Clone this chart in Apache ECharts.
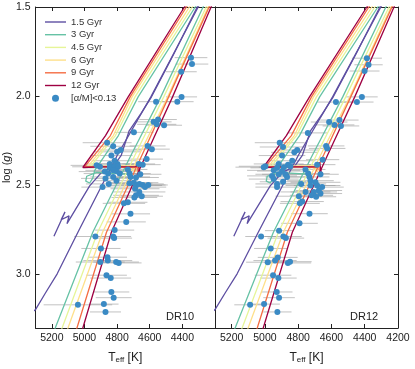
<!DOCTYPE html>
<html lang="en">
<head>
    <meta charset="UTF-8">
    <title>Isochrones vs DR10 / DR12</title>
    <script src="https://cdn.jsdelivr.net/npm/echarts/dist/echarts.min.js"></script>
    <style>
        html, body { margin: 0; padding: 0; background: #ffffff; }
        #main { width: 415px; height: 369px; }
    </style>
</head>
<body>
<div id="main"></div>
<script type="text/javascript">
    // ages shown in the legend
    var ages = ['1.5 Gyr', '3 Gyr', '4.5 Gyr', '6 Gyr', '9 Gyr', '12 Gyr'];
    var sampleName = '[α/M]<0.13';
    var panelNames = ['DR10', 'DR12'];

    // tick values
    var teffTicks = [4200, 4400, 4600, 4800, 5000, 5200];
    var loggTicks = [1.5, 2.0, 2.5, 3.0];

    // isochrones: red giant branch [Teff, log g]
    var rgb_1_5 = [[5420, 3.28], [5300, 3.197], [5240, 3.105], [5167, 2.996], [5040, 2.763], [4798, 2.330], [4593, 2.004], [4303, 1.5], [4245, 1.4]];
    var rgb_3 = [[5222, 3.4], [5179, 3.3], [4949, 2.763], [4714, 2.33], [4532, 2.004], [4273, 1.5], [4222, 1.4]];
    var rgb_4_5 = [[5180, 3.4], [5137, 3.3], [4919, 2.763], [4690, 2.33], [4514, 2.004], [4254, 1.5], [4203, 1.4]];
    var rgb_6 = [[5141, 3.4], [5101, 3.3], [4889, 2.763], [4665, 2.33], [4490, 2.004], [4242, 1.5], [4192, 1.4]];
    var rgb_9 = [[5080, 3.4], [5046, 3.3], [4865, 2.763], [4647, 2.33], [4484, 2.004], [4236, 1.5], [4186, 1.4]];
    var rgb_12 = [[5043, 3.4], [5010, 3.3], [4835, 2.763], [4623, 2.33], [4460, 2.004], [4224, 1.5], [4177, 1.4]];

    // isochrones: clump / horizontal branch and AGB
    var hb_1_5 = [[5187, 2.785], [5119, 2.649], [5143, 2.693], [5094, 2.671], [5107, 2.715], [4968, 2.503], [4895, 2.427], [4823, 2.395], [4774, 2.330], [4726, 2.194], [4653, 2.096], [4593, 2.010], [4454, 1.766], [4309, 1.5], [4279, 1.446]];
    var hb_3 = [[4714, 2.438], [4925, 2.427], [4986, 2.449], [4992, 2.476], [4968, 2.487], [4949, 2.460], [4937, 2.416], [4792, 2.221], [4671, 2.004], [4321, 1.5], [4283, 1.446]];
    var hb_4_5 = [[4696, 2.422], [4700, 2.395], [4900, 2.398], [4968, 2.400], [4810, 2.221], [4690, 2.004], [4339, 1.5], [4301, 1.446]];
    var hb_6 = [[4684, 2.427], [4690, 2.390], [4900, 2.393], [4980, 2.395], [4823, 2.221], [4708, 2.004], [4357, 1.5], [4319, 1.446]];
    var hb_9 = [[4671, 2.427], [4677, 2.384], [4690, 2.400], [4900, 2.395], [4998, 2.395], [4841, 2.221], [4720, 2.004], [4375, 1.5], [4337, 1.446]];
    var hb_12 = [[4659, 2.443], [4671, 2.373], [4684, 2.395], [4895, 2.397], [5010, 2.400], [4871, 2.221], [4732, 2.004], [4387, 1.5], [4349, 1.446]];

    // stars, DR10
    var dr10Teff = [4347, 4341, 4407, 4405, 4431, 4561, 4576, 4549, 4557, 4512, 4697, 4861, 4824, 4778, 4800, 4613, 4587, 4619, 4835, 4815,
        4798, 4925, 4905, 4845, 4845, 4815, 4794, 4824, 4875, 4855, 4804, 4784, 4871, 4824, 4804, 4851, 4889, 4734, 4724, 4718,
        4667, 4643, 4658, 4684, 4724, 4697, 4684, 4664, 4643, 4629, 4609, 4690, 4664, 4684, 4649, 4694, 4758, 4734, 4718, 4744,
        4815, 4933, 4824, 4818, 4899, 4859, 4903, 4857, 4806, 4790, 4865, 4839, 4835, 4821, 5040, 4881, 4871];
    var dr10Logg = [1.784, 1.820, 1.863, 2.004, 2.031, 2.031, 2.144, 2.131, 2.158, 2.163, 2.203, 2.261, 2.281, 2.302, 2.312, 2.279, 2.297, 2.353, 2.333, 2.362,
        2.380, 2.388, 2.396, 2.380, 2.402, 2.393, 2.396, 2.416, 2.423, 2.434, 2.420, 2.434, 2.461, 2.453, 2.474, 2.492, 2.510, 2.411, 2.434, 2.453,
        2.380, 2.384, 2.438, 2.456, 2.488, 2.485, 2.501, 2.492, 2.498, 2.510, 2.498, 2.519, 2.537, 2.556, 2.561, 2.568, 2.601, 2.595, 2.660, 2.705,
        2.751, 2.787, 2.787, 2.796, 2.854, 2.903, 2.930, 2.922, 2.930, 2.935, 3.004, 3.020, 3.098, 3.130, 3.170, 3.166, 3.210];
    var dr10Err = [100, 100, 95, 95, 100, 110, 110, 115, 120, 110, 120, 150, 140, 130, 140, 110, 110, 100, 130, 140,
        150, 160, 170, 150, 160, 140, 150, 170, 160, 150, 140, 130, 150, 140, 130, 140, 130, 120, 130, 120,
        100, 110, 130, 140, 140, 150, 160, 150, 140, 130, 120, 150, 160, 140, 130, 140, 130, 120, 120, 120,
        120, 130, 110, 110, 120, 120, 150, 150, 140, 140, 125, 125, 110, 110, 210, 90, 95];

    // stars, DR12
    var dr12Teff = [4387, 4377, 4401, 4417, 4447, 4573, 4614, 4552, 4582, 4543, 4742, 4911, 4891, 4806, 4823, 4632, 4626, 4897, 4653, 4836,
        4686, 4861, 4917, 4997, 5007, 4927, 4886, 4847, 4947, 4897, 4877, 4957, 4917, 4867, 4947, 4891, 4927, 4927, 4756, 4740,
        4732, 4666, 4726, 4782, 4696, 4726, 4686, 4656, 4676, 4756, 4706, 4666, 4796, 4720, 4692, 4776, 4790, 4732, 4792, 4915,
        5023, 4889, 4874, 4965, 4923, 4983, 4939, 4862, 4849, 4951, 4919, 4929, 4915, 5089, 5005, 4925];
    var dr12Logg = [1.787, 1.824, 1.859, 2.004, 2.033, 2.033, 2.145, 2.134, 2.161, 2.167, 2.206, 2.261, 2.285, 2.302, 2.315, 2.279, 2.293, 2.333, 2.356, 2.362,
        2.384, 2.384, 2.380, 2.393, 2.398, 2.402, 2.398, 2.393, 2.416, 2.420, 2.438, 2.447, 2.438, 2.453, 2.465, 2.480, 2.492, 2.510, 2.411, 2.434,
        2.453, 2.438, 2.474, 2.492, 2.483, 2.501, 2.501, 2.510, 2.529, 2.537, 2.537, 2.546, 2.561, 2.556, 2.564, 2.591, 2.601, 2.659, 2.713, 2.754,
        2.787, 2.787, 2.796, 2.854, 2.904, 2.931, 2.922, 2.935, 2.928, 3.004, 3.020, 3.098, 3.130, 3.170, 3.166, 3.210];
    var dr12Err = [90, 85, 90, 95, 100, 110, 110, 115, 120, 110, 120, 150, 140, 130, 140, 110, 110, 140, 100, 140,
        110, 150, 150, 160, 170, 160, 150, 140, 160, 150, 140, 150, 140, 130, 150, 140, 130, 130, 120, 130,
        120, 110, 140, 150, 150, 150, 140, 130, 140, 150, 140, 130, 140, 130, 120, 130, 120, 110, 110, 85,
        95, 110, 110, 100, 120, 130, 130, 140, 130, 110, 110, 95, 95, 95, 95, 85];

    var rgbTracks = [rgb_1_5, rgb_3, rgb_4_5, rgb_6, rgb_9, rgb_12];
    var hbTracks = [hb_1_5, hb_3, hb_4_5, hb_6, hb_9, hb_12];
    var ageColors = ['#5e4fa2', '#66c2a5', '#e6f598', '#fee08b', '#f46d43', '#9e0142'];
    var dotColor = '#3a8ac4';
    var font = 'Liberation Sans';
    var lineIcon = 'path://M0,0H21V1.4H0Z';

    var myChart = echarts.init(document.getElementById('main'), null, {renderer: 'canvas'});

    function zip(a, b, c) {
        var out = [];
        for (var i = 0; i < a.length; i++) {
            out.push(c ? [a[i], b[i], c[i]] : [a[i], b[i]]);
        }
        return out;
    }

    // one x axis (bottom or top) for a panel
    function xAx(grid, pos, labels, showMin) {
        return {
            type: 'value', gridIndex: grid, position: pos,
            min: teffTicks[0], max: 5300, interval: 200, inverse: true,
            axisLine: {show: true, lineStyle: {color: '#222', width: 1}},
            axisTick: {show: true, inside: true, length: 4, lineStyle: {color: '#222'}},
            axisLabel: {
                show: labels, showMinLabel: showMin, showMaxLabel: false,
                fontSize: 10.5, color: '#222', fontFamily: font, margin: 5,
                formatter: function (v) { return teffTicks.indexOf(v) >= 0 ? String(v) : ''; }
            },
            splitLine: {show: false},
            name: labels ? 'T{s|eff} [K]' : '',
            nameLocation: 'middle', nameGap: 23,
            nameTextStyle: {
                fontSize: 12, color: '#222', fontFamily: font,
                rich: {s: {fontSize: 8, verticalAlign: 'bottom', padding: [5, 0, 0, 0], fontFamily: font, color: '#222'}}
            }
        };
    }

    function yAx(grid, pos, labels) {
        return {
            type: 'value', gridIndex: grid, position: pos,
            min: loggTicks[0], max: 3.3, interval: 0.5, inverse: true,
            axisLine: {show: true, lineStyle: {color: '#222', width: 1}},
            axisTick: {show: true, inside: true, length: 4, lineStyle: {color: '#222'}},
            axisLabel: {
                show: labels, showMaxLabel: false, fontSize: 10.5, color: '#222', fontFamily: font, margin: 5,
                formatter: function (v) { return v.toFixed(1); }
            },
            splitLine: {show: false},
            name: labels ? 'log ({i|g})' : '',
            nameLocation: 'middle', nameGap: 22, nameRotate: 90,
            nameTextStyle: {
                fontSize: 11, color: '#222', fontFamily: font,
                rich: {i: {fontSize: 11, fontStyle: 'italic', fontFamily: font, color: '#222'}}
            }
        };
    }

    var series = [];
    for (var p = 0; p < 2; p++) {
        // error bars
        var pts = p === 0 ? zip(dr10Teff, dr10Logg, dr10Err) : zip(dr12Teff, dr12Logg, dr12Err);
        series.push({
            type: 'custom', xAxisIndex: 2 * p, yAxisIndex: 2 * p, z: 1, silent: true, clip: true,
            encode: {x: 0, y: 1},
            data: pts,
            renderItem: function (params, api) {
                var t = api.value(0), g = api.value(1), e = api.value(2);
                var a = api.coord([t - e, g]);
                var b = api.coord([t + e, g]);
                return {
                    type: 'line',
                    shape: {x1: a[0], y1: a[1], x2: b[0], y2: b[1]},
                    style: {stroke: '#9a9a9a', lineWidth: 1, opacity: 0.6}
                };
            }
        });
        for (var i = 0; i < ages.length; i++) {
            [rgbTracks[i], hbTracks[i]].forEach(function (track) {
                series.push({
                    name: ages[i], type: 'line',
                    xAxisIndex: 2 * p, yAxisIndex: 2 * p, z: 2,
                    symbol: 'none', silent: true, clip: true,
                    itemStyle: {color: ageColors[i]},
                    lineStyle: {color: ageColors[i], width: 1.3},
                    data: track
                });
            });
        }
        series.push({
            name: sampleName, type: 'scatter',
            xAxisIndex: 2 * p, yAxisIndex: 2 * p, z: 4,
            symbolSize: 6, itemStyle: {color: dotColor, opacity: 1},
            data: p === 0 ? zip(dr10Teff, dr10Logg) : zip(dr12Teff, dr12Logg)
        });
    }

    var legendData = ages.map(function (a) { return {name: a, icon: lineIcon}; });
    legendData.push({name: sampleName, icon: 'circle'});

    var option = {
        backgroundColor: '#ffffff',
        animation: false,
        grid: [
            {left: 33, top: 7, width: 182, height: 332},
            {left: 215, top: 7, width: 183, height: 332}
        ],
        xAxis: [
            xAx(0, 'bottom', true, false),
            xAx(0, 'top', false, false),
            xAx(1, 'bottom', true, true),
            xAx(1, 'top', false, false)
        ],
        yAxis: [
            yAx(0, 'left', true),
            yAx(0, 'right', false),
            yAx(1, 'left', false),
            yAx(1, 'right', false)
        ],
        legend: {
            data: legendData,
            orient: 'vertical', left: 40, top: 12,
            itemWidth: 21, itemHeight: 7, itemGap: 2.7,
            symbolKeepAspect: true,
            selectedMode: false,
            textStyle: {fontSize: 9.5, color: '#333', fontFamily: font}
        },
        graphic: [
            {type: 'text', left: 166, top: 311, style: {text: panelNames[0], fontSize: 11, fill: '#222', fontFamily: font}},
            {type: 'text', left: 350, top: 311, style: {text: panelNames[1], fontSize: 11, fill: '#222', fontFamily: font}}
        ],
        series: series
    };

    myChart.setOption(option);
</script>
</body>
</html>
